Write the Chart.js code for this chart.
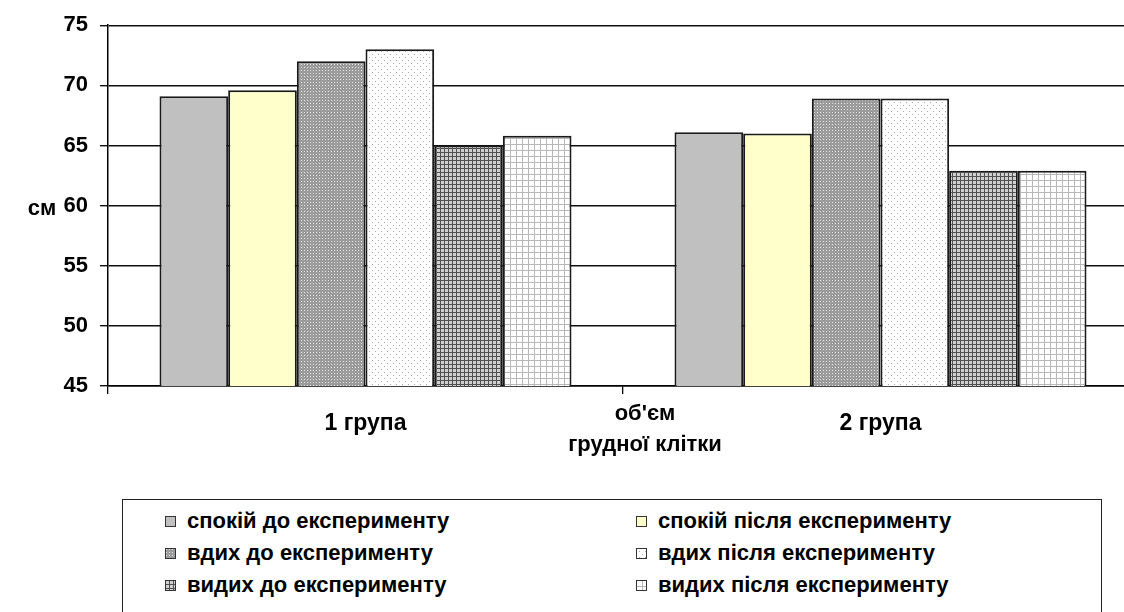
<!DOCTYPE html>
<html lang="uk">
<head>
<meta charset="utf-8">
<script src="https://cdn.jsdelivr.net/npm/chart.js@4"></script>
<style>
  html, body { margin: 0; padding: 0; background: #fff; overflow: hidden; width: 1124px; height: 612px; }
  #wrap { position: absolute; left: 0; top: 0; width: 1140px; height: 480px; }
  #legend { position: absolute; left: 122px; top: 499px; width: 980px; height: 130px;
            border: 1.5px solid #222; box-sizing: border-box; }
  .item { position: absolute; display: flex; align-items: center; height: 28px;
          font: bold 22px "Liberation Sans", Arial, sans-serif; color: #000; white-space: nowrap; }
  .item canvas { margin-right: 11px; }
</style>
</head>
<body>
<div id="wrap"><canvas id="chart" width="1140" height="480"></canvas></div>
<div id="legend"></div>
<script>
// дані
const categories = ['1 група', '2 група'];
const seriesNames = [
    'спокій до експерименту',
    'спокій після експерименту',
    'вдих до експерименту',
    'вдих після експерименту',
    'видих до експерименту',
    'видих після експерименту'
];
const spokiiDo = [69.1, 66.1];
const spokiiPislia = [69.6, 66.0];
const vdykhDo = [72.0, 68.9];
const vdykhPislia = [73.0, 68.9];
const vydykhDo = [65.0, 62.9];
const vydykhPislia = [65.8, 62.9];
const yTicks = { min: 45, max: 75, step: 5 };

const FONT = '"Liberation Sans", Arial, sans-serif';

// заливки-візерунки
function makeTile(w, h, draw) {
    const c = document.createElement('canvas');
    c.width = w;
    c.height = h;
    draw(c.getContext('2d'));
    return c;
}

const tiles = [
    makeTile(4, 4, g => { g.fillStyle = '#c0c0c0'; g.fillRect(0, 0, 4, 4); }),
    makeTile(4, 4, g => { g.fillStyle = '#ffffcc'; g.fillRect(0, 0, 4, 4); }),
    makeTile(3, 3, g => {
        g.fillStyle = '#9c9c9c'; g.fillRect(0, 0, 3, 3);
        g.fillStyle = '#e2e2e2'; g.fillRect(1, 1, 1, 1);
    }),
    makeTile(6, 6, g => {
        g.fillStyle = '#ffffff'; g.fillRect(0, 0, 6, 6);
        g.fillStyle = '#a8a8a8'; g.fillRect(0, 0, 1, 1); g.fillRect(3, 3, 1, 1);
    }),
    makeTile(4, 4, g => {
        g.fillStyle = '#d0d0d0'; g.fillRect(0, 0, 4, 4);
        g.fillStyle = '#505050'; g.fillRect(0, 0, 1, 4); g.fillRect(0, 0, 4, 1);
    }),
    makeTile(6, 6, g => {
        g.fillStyle = '#ffffff'; g.fillRect(0, 0, 6, 6);
        g.fillStyle = '#b8b8b8'; g.fillRect(0, 0, 1, 6); g.fillRect(0, 0, 6, 1);
    })
];

const ctx = document.getElementById('chart').getContext('2d');
const fills = tiles.map(t => ctx.createPattern(t, 'repeat'));
const seriesValues = [spokiiDo, spokiiPislia, vdykhDo, vdykhPislia, vydykhDo, vydykhPislia];

// підписи осей (не повернуті)
const axisText = {
    id: 'axisText',
    afterDraw(chart) {
        const c = chart.ctx;
        c.save();
        c.fillStyle = '#000';
        c.font = 'bold 22px ' + FONT;
        c.textAlign = 'center';
        c.textBaseline = 'middle';
        c.fillText('см', 42, 209);
        c.fillText('об\'єм', 645, 414);
        c.fillText('грудної клітки', 645, 445);
        c.restore();
    }
};

const chart = new Chart(ctx, {
    type: 'bar',
    data: {
        labels: categories,
        datasets: seriesNames.map((name, i) => ({
            label: name,
            data: seriesValues[i],
            backgroundColor: fills[i],
            borderColor: '#1a1a1a',
            borderWidth: 2,
            barPercentage: 1,
            categoryPercentage: 0.8
        }))
    },
    options: {
        responsive: false,
        animation: false,
        layout: { padding: { top: 25, right: 2, left: 0, bottom: 0 } },
        plugins: {
            legend: { display: false },
            tooltip: { enabled: false }
        },
        scales: {
            x: {
                offset: true,
                grid: { offset: true, drawOnChartArea: false, drawTicks: true, tickLength: 8, color: '#000', lineWidth: 1.3 },
                border: { color: '#000', width: 1.5 },
                ticks: { color: '#000', padding: 16, font: { family: FONT, size: 23, weight: 'bold' } },
                afterFit(s) { s.height = 94; }
            },
            y: {
                min: yTicks.min,
                max: yTicks.max,
                ticks: { stepSize: yTicks.step, color: '#000', padding: 12, font: { family: FONT, size: 22, weight: 'bold' } },
                grid: { color: '#111', lineWidth: 1.4, tickLength: 8 },
                border: { color: '#000', width: 1.5 },
                afterFit(s) { s.width = 108; }
            }
        }
    },
    plugins: [axisText]
});

// легенда у дві колонки
const legend = document.getElementById('legend');
chart.data.datasets.forEach((ds, i) => {
    const item = document.createElement('div');
    item.className = 'item';
    item.style.left = (i % 2 === 0 ? 42 : 513) + 'px';
    item.style.top = (7 + Math.floor(i / 2) * 32) + 'px';
    const sw = document.createElement('canvas');
    sw.width = 11;
    sw.height = 11;
    const g = sw.getContext('2d');
    g.fillStyle = g.createPattern(tiles[i], 'repeat');
    g.fillRect(0, 0, 11, 11);
    g.strokeStyle = '#333';
    g.lineWidth = 1;
    g.strokeRect(0.5, 0.5, 10, 10);
    item.appendChild(sw);
    item.appendChild(document.createTextNode(ds.label));
    legend.appendChild(item);
});
</script>
</body>
</html>
